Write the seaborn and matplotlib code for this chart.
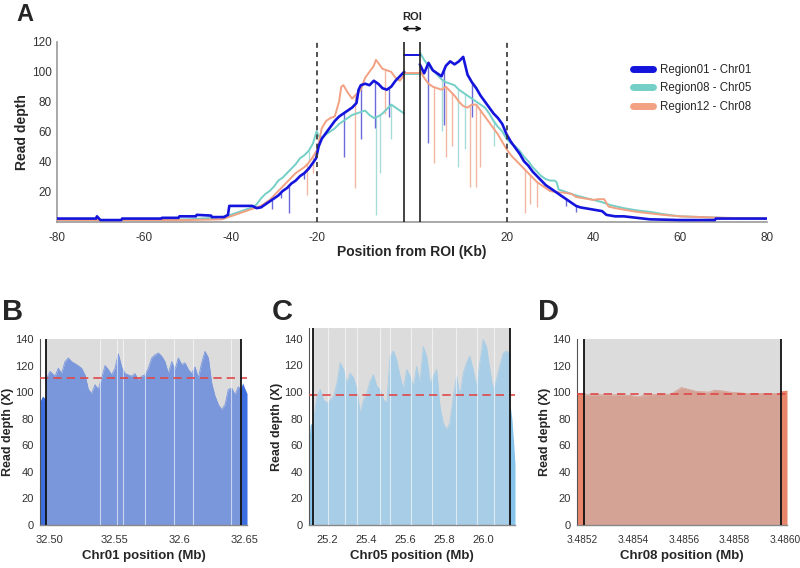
import numpy as np
import pandas as pd
import matplotlib
matplotlib.use("Agg")
import matplotlib.pyplot as plt
from matplotlib.lines import Line2D
import seaborn as sns

sns.set_theme(style="white")
plt.rcParams['font.family'] = ['Liberation Sans', 'DejaVu Sans']

# ---------------- Panel A data (position from ROI edge, kb ; read depth) ----------------
blue_left_pos = [-80, -71, -70.8, -70, -65.2, -65, -56, -55.8, -52, -51.8, -48, -47.8, -44.5, -44.3,
                 -41.5, -40.6, -40.3, -35, -34, -33, -32, -31, -30, -29, -28, -27, -26, -25, -24,
                 -23, -22, -21, -20.3, -19.7, -19, -18, -17, -16, -15, -14, -13, -12, -11, -10.5,
                 -10, -9, -8, -7, -6, -5, -4, -3, -2, -1, 0]
blue_left_val = [1.5, 1.5, 3, 0.5, 0.5, 1.5, 1.5, 2, 2, 3, 3, 4, 3.5, 2.5,
                 2.5, 4, 10, 10, 8.5, 9, 11, 13, 15, 17, 20, 22, 25, 27, 30,
                 32, 35, 39, 42, 50, 55, 59, 63, 67, 70, 72, 74, 76, 79, 88,
                 91, 92, 91, 94, 92, 89, 88, 90, 94, 97, 100]
blue_right_pos = [0, 1, 2, 3, 4, 5, 6, 7, 8, 9, 10, 11, 12, 13, 14, 15, 16, 17, 18, 19, 20,
                  21, 22, 23, 24, 25, 26, 27, 28, 29, 30, 31, 32, 33, 34, 35, 36, 37, 38, 40,
                  42, 43, 45, 47, 50, 53, 60, 68, 68.2, 80]
blue_right_val = [105, 99, 106, 101, 99, 97, 104, 107, 105, 107, 110, 98, 93, 89, 84, 80, 76, 72, 69, 65, 58,
                  53, 49, 45, 40, 37, 33, 30, 27, 24, 22, 20, 18, 16, 14, 12, 10, 9, 8.5, 7.5,
                  6.5, 4, 3, 3, 2, 1, 0.5, 0.5, 1.5, 1.5]

teal_left_pos = [-80, -60, -50, -44, -41, -39, -37, -35, -34, -33, -32, -31, -30, -29, -28, -27, -26,
                 -25, -24, -23, -22, -21, -20.2, -19.5, -19, -18, -17, -16, -15, -14, -13, -12, -11,
                 -10, -9, -8, -7, -6, -5, -4, -3, -2, -1, 0]
teal_left_val = [0.5, 0.5, 1, 2, 3, 5, 7, 9, 11, 15, 18, 20, 23, 27, 29, 32, 35,
                 38, 42, 44, 47, 52, 60, 56, 56, 58, 60, 62, 65, 67, 69, 71, 72,
                 73, 74, 71, 69, 70, 72, 75, 78, 76, 74, 72]
teal_right_pos = [0, 1, 2, 3, 4, 5, 6, 7, 8, 9, 10, 11, 12, 13, 14, 15, 16, 17, 18, 19, 20, 21, 22,
                  23, 24, 25, 26, 27, 28, 29, 30, 31, 31.5, 32, 34, 36, 38, 40, 42, 44, 47, 50, 53,
                  56, 60, 65, 70, 80]
teal_right_val = [113, 108, 104, 101, 98, 95, 93, 92, 91, 88, 86, 84, 82, 80, 78, 76, 72, 67, 63, 60, 55, 52, 50,
                  47, 43, 40, 36, 33, 30, 28, 27, 27, 26, 21, 19, 17, 15.5, 14, 12.5, 10.5, 8.5, 7, 6,
                  4.5, 3, 2.5, 2, 1.5]

orange_left_pos = [-80, -50, -42, -40, -38, -36, -35, -34, -33, -32, -31, -30, -29, -28, -27, -26, -25,
                   -24, -23, -22, -21, -20, -19.5, -19, -18, -17, -16, -15, -14.5, -14, -13, -12, -11,
                   -10, -9, -8, -7, -6.5, -6, -5, -4, -3, -2, -1, 0]
orange_left_val = [0.5, 0.5, 1, 3, 5, 7, 8, 9, 10, 12, 14, 17, 20, 23, 26, 29, 32,
                   34, 36, 39, 43, 48, 55, 62, 67, 69, 70, 80, 90, 91, 86, 82, 85,
                   88, 96, 100, 104, 108, 106, 102, 101, 100, 96, 94, 98]
orange_right_pos = [0, 1, 2, 3, 4, 5, 6, 7, 8, 9, 10, 11, 12, 13, 14, 15, 16, 17, 18, 19, 20, 21, 22,
                    23, 24, 25, 26, 27, 28, 29, 30, 31, 32, 33, 35, 36, 38, 40, 41, 42.5, 43.5, 45,
                    47, 50, 53, 56, 60, 70, 80]
orange_right_val = [101, 96, 92, 90, 89, 88, 90, 87, 84, 80, 77, 76, 78, 78, 74, 70, 66, 62, 58, 53, 48, 44, 41,
                    38, 35, 32, 29, 26, 24, 22, 20, 19.5, 19, 19, 18, 16, 15, 14, 14.5, 14.5, 9.5, 8.5,
                    7.5, 6, 5, 4, 3, 2, 1.5]

# sharp coverage drops (position kb, depth)
blue_dip_pos = [-30.5, -28.5, -26.5, -23, -13.8, -10, -6.8, -3.4, 1.8, 5.6, 12, 33.8, 36]
blue_dip_val = [8, 15, 5, 28, 43, 55, 62, 70, 52, 64, 70, 10, 6]
teal_dip_pos = [-22, -6.6, -5.5, -3, 5, 8.8, 10.3, 17]
teal_dip_val = [40, 4, 32, 55, 60, 36, 48, 50]
orange_dip_pos = [-22.3, -21, -11.4, -4.5, 3.2, 6, 7.5, 11.5, 13, 13.8, 24.2, 25.4, 27]
orange_dip_val = [17, 32, 22, 72, 39, 43, 50, 23, 23, 36, 5, 11, 9]

# mean depth inside ROI
roi_mean = {"Region01 - Chr01": 111, "Region08 - Chr05": 98.5, "Region12 - Chr08": 99.5}

series_names = ["Region01 - Chr01", "Region08 - Chr05", "Region12 - Chr08"]
series_colors = ["#1414dc", "#74cfc6", "#f2a182"]
dip_colors = ["#6a6ad8", "#a8dcd8", "#f0b8a4"]

ROI_HALF = 1.8  # half-width of the ROI gap on the x scale

# ---------------- Panels B-D data ----------------
b_pos = [32.4974, 32.5008, 32.5046, 32.5072, 32.5097, 32.5123, 32.5149, 32.5174, 32.5213, 32.5251,
         32.5277, 32.5303, 32.5328, 32.5354, 32.5379, 32.5405, 32.5431, 32.5456, 32.5482, 32.5508,
         32.5533, 32.5559, 32.5585, 32.5610, 32.5636, 32.5662, 32.5687, 32.5713, 32.5738, 32.5764,
         32.5790, 32.5815, 32.5841, 32.5867, 32.5892, 32.5918, 32.5944, 32.5969, 32.5995, 32.6021,
         32.6046, 32.6072, 32.6097, 32.6123, 32.6149, 32.6174, 32.6200, 32.6226, 32.6251, 32.6277,
         32.6303, 32.6328, 32.6354, 32.6379, 32.6405, 32.6431, 32.6456, 32.6479]
b_depth = [109, 115.6, 112, 118, 114, 123, 125.7, 123, 120.7, 118,
           113, 102, 99, 105.6, 102, 110.6, 120, 117, 113, 118,
           129, 119, 114, 113, 112, 114, 109, 112, 113, 118,
           125.7, 128, 129.5, 127, 123, 114, 123, 117, 125.7, 120.7,
           122, 117, 114, 119, 110.6, 122, 130.7, 125.7, 107, 97,
           90.6, 86.8, 90.6, 102, 103, 98, 104, 102]
b_out_left_pos = [32.4931, 32.4950, 32.4974]
b_out_left_depth = [93, 97, 95]
b_out_right_pos = [32.6479, 32.6490, 32.6505, 32.6523]
b_out_right_depth = [104, 107, 103, 99]
b_bounds = [32.4975, 32.6477]
b_mean = 110.6
b_gaps = [32.5392, 32.5520, 32.5570, 32.5740, 32.5960, 32.6105, 32.6400]

c_pos = [25.128, 25.145, 25.162, 25.179, 25.197, 25.214, 25.231, 25.248, 25.265, 25.282,
         25.299, 25.316, 25.334, 25.351, 25.368, 25.385, 25.402, 25.419, 25.436, 25.454,
         25.471, 25.488, 25.505, 25.522, 25.539, 25.556, 25.573, 25.591, 25.608, 25.625,
         25.642, 25.659, 25.676, 25.693, 25.710, 25.728, 25.745, 25.762, 25.779, 25.796,
         25.813, 25.830, 25.848, 25.865, 25.882, 25.899, 25.916, 25.933, 25.950, 25.967,
         25.985, 26.002, 26.019, 26.036, 26.053, 26.070, 26.087, 26.104, 26.122, 26.139]
c_depth = [79, 96.7, 101.8, 94, 91.7, 94, 96.7, 106.8, 121.9, 116.8,
           106.8, 114, 110.6, 101.8, 84, 94, 99, 108, 113, 104,
           101.8, 94, 91.7, 127, 130.7, 124, 111.8, 101.8, 116.8, 111.8,
           104, 119, 106.8, 134, 127, 106.8, 111.8, 116.8, 89, 76.6,
           71.6, 76.6, 96.7, 111.8, 96.7, 114, 121.9, 127, 116.8, 104,
           121.9, 139.4, 134, 116.8, 101.8, 109, 119, 129, 130.7, 129]
c_out_left_pos = [25.104, 25.110, 25.118, 25.125]
c_out_left_depth = [62, 75, 77, 70]
c_out_right_pos = [26.139, 26.150, 26.160, 26.166]
c_out_right_depth = [92, 80, 60, 45]
c_bounds = [25.125, 26.139]
c_mean = 97.5
c_gaps = [25.20, 25.29, 25.35, 25.47, 25.52, 25.63, 25.74, 25.86, 25.97, 26.06]

d_pos = [3.485204, 3.48535, 3.48539, 3.48542, 3.48545, 3.48555, 3.48559, 3.48561, 3.48565,
         3.48570, 3.48572, 3.48575, 3.48578, 3.48585, 3.485983]
d_depth = [98, 98, 97.5, 96.5, 98, 98.5, 103.5, 102.5, 100.5, 100, 101.5, 101, 100, 99, 99]
d_out_left_pos = [3.485178, 3.485204]
d_out_left_depth = [99, 99]
d_out_right_pos = [3.485983, 3.486007]
d_out_right_depth = [101, 101.5]
d_bounds = [3.485204, 3.485983]
d_mean = 98.5

# ---------------- Figure ----------------
W, H = 800, 568
fig = plt.figure(figsize=(W / 100, H / 100), dpi=100)


def px_axes(left, top, right, bottom):
    return fig.add_axes([left / W, 1 - bottom / H, (right - left) / W, (bottom - top) / H])


# ---- Panel A ----
axA = px_axes(57, 42, 767, 222)
segments = [
    (blue_left_pos, blue_left_val, blue_right_pos, blue_right_val, blue_dip_pos, blue_dip_val),
    (teal_left_pos, teal_left_val, teal_right_pos, teal_right_val, teal_dip_pos, teal_dip_val),
    (orange_left_pos, orange_left_val, orange_right_pos, orange_right_val, orange_dip_pos, orange_dip_val),
]
order = [1, 2, 0]  # draw blue on top
for i in order:
    lp, lv, rp, rv, dp, dv = segments[i]
    name, col, dcol = series_names[i], series_colors[i], dip_colors[i]
    lx = np.array(lp) - ROI_HALF
    rx = np.array(rp) + ROI_HALF
    dp = np.array(dp, dtype=float)
    top = np.where(dp < 0, np.interp(dp, lp, lv), np.interp(dp, rp, rv))
    dx = np.where(dp < 0, dp - ROI_HALF, dp + ROI_HALF)
    axA.vlines(dx, dv, top, color=dcol, lw=1.0, zorder=2)
    lw = 1.9 if i == 0 else 1.4
    sns.lineplot(x=lx, y=lv, ax=axA, color=col, lw=lw, zorder=3 + (i == 0))
    sns.lineplot(x=rx, y=rv, ax=axA, color=col, lw=lw, zorder=3 + (i == 0))
    sns.lineplot(x=[-ROI_HALF, ROI_HALF], y=[roi_mean[name]] * 2, ax=axA, color=col, lw=1.4, zorder=3)

axA.set_xlim(-80 - ROI_HALF, 80 + ROI_HALF)
axA.set_ylim(-0.8, 120)
for xv in (-20 - ROI_HALF, 20 + ROI_HALF):
    axA.axvline(xv, color="#333333", lw=1.2, ls=(0, (3, 2.5)), zorder=5)
for xv in (-ROI_HALF, ROI_HALF):
    axA.axvline(xv, color="#222222", lw=1.2, zorder=5)
tick_vals = [-80, -60, -40, -20, 0, 0, 20, 40, 60, 80]
tick_pos = [v - ROI_HALF for v in tick_vals[:5]] + [v + ROI_HALF for v in tick_vals[5:]]
axA.set_xticks(tick_pos)
axA.set_xticklabels([str(v) if v != 0 else "" for v in tick_vals])
axA.set_yticks([20, 40, 60, 80, 100, 120])
for s in ("top", "right"):
    axA.spines[s].set_visible(False)
for s in ("left", "bottom"):
    axA.spines[s].set_color("#999999")
    axA.spines[s].set_linewidth(1.2)
axA.tick_params(axis="both", labelsize=8.5, colors="#333333", length=3, width=0.8,
                color="#999999", pad=1)
axA.tick_params(axis="x", pad=4)
axA.set_xlabel("Position from ROI (Kb)", fontsize=10, fontweight="bold", labelpad=1)
axA.set_ylabel("Read depth", fontsize=10, fontweight="bold", labelpad=2)
axA.annotate("", xy=(-ROI_HALF - 0.5, 129), xytext=(ROI_HALF + 0.5, 129),
             arrowprops=dict(arrowstyle="<->,head_length=0.25,head_width=0.12", lw=1.1,
                             color="#111111", shrinkA=0, shrinkB=0),
             annotation_clip=False)
axA.text(0, 137, "ROI", ha="center", va="center", fontsize=8, fontweight="bold", clip_on=False)
handles = [Line2D([0], [0], color=c, lw=5) for c in series_colors]
axA.legend(handles, series_names, loc="upper left", bbox_to_anchor=(0.797, 0.935), frameon=False,
           fontsize=8.3, handlelength=1.75, handletextpad=0.6, labelspacing=0.55)
fig.text(16 / W, 1 - 3 / H, "A", fontsize=17, fontweight="bold", va="top", ha="left")


# ---- Panels B-D ----
def coverage_panel(ax, pos, depth, olp, old, orp, ord_, bounds, mean, ymax,
                   inner, outer, gaps, xlim, ticks, ticklabels, xlabel, xtick_size=8):
    ax.fill_between([bounds[0], bounds[1]], 0, ymax, color="#dcdcdc", lw=0, zorder=1)
    ax.fill_between(pos, 0, depth, color=inner, lw=0, zorder=2)
    sns.lineplot(x=pos, y=depth, ax=ax, color=inner, lw=0.6, zorder=2)
    ax.fill_between(olp, 0, old, color=outer, lw=0, zorder=2)
    ax.fill_between(orp, 0, ord_, color=outer, lw=0, zorder=2)
    if gaps:
        ax.vlines(gaps, 0, ymax, color="white", lw=0.8, alpha=0.6, zorder=3)
    ax.axhline(mean, color="#e04848", lw=1.2, ls=(0, (5, 3)), zorder=4)
    for b in bounds:
        ax.axvline(b, color="#111111", lw=1.3, zorder=5)
    ax.set_xlim(*xlim)
    ax.set_ylim(0, ymax)
    ax.set_yticks([0, 20, 40, 60, 80, 100, 120, 140])
    ax.set_xticks(ticks)
    ax.set_xticklabels(ticklabels)
    for s in ("top", "right"):
        ax.spines[s].set_visible(False)
    ax.spines["left"].set_color("#555555")
    ax.spines["bottom"].set_color("#888888")
    ax.spines["left"].set_linewidth(0.8)
    ax.spines["bottom"].set_linewidth(1.0)
    ax.tick_params(axis="both", labelsize=8, colors="#333333", length=3, width=0.8,
                   color="#555555", pad=1.5)
    ax.tick_params(axis="x", pad=4, labelsize=xtick_size)
    ax.set_xlabel(xlabel, fontsize=9.5, fontweight="bold", labelpad=4)
    ax.set_ylabel("Read depth (X)", fontsize=9, fontweight="bold", labelpad=1)


axB = px_axes(40, 339, 247, 525)
coverage_panel(axB, b_pos, b_depth, b_out_left_pos, b_out_left_depth, b_out_right_pos,
               b_out_right_depth, b_bounds, b_mean, 140, "#7a97dc", "#3d6fe0", b_gaps,
               (32.4931, 32.6523), [32.50, 32.55, 32.60, 32.65],
               ["32.50", "32.55", "32.6", "32.65"], "Chr01 position (Mb)")

axC = px_axes(309, 328, 515, 525)
coverage_panel(axC, c_pos, c_depth, c_out_left_pos, c_out_left_depth, c_out_right_pos,
               c_out_right_depth, c_bounds, c_mean, 148, "#a8cde6", "#86c3ea", c_gaps,
               (25.104, 26.166), [25.2, 25.4, 25.6, 25.8, 26.0],
               ["25.2", "25.4", "25.6", "25.8", "26.0"], "Chr05 position (Mb)")

axD = px_axes(577, 339, 787, 525)
coverage_panel(axD, d_pos, d_depth, d_out_left_pos, d_out_left_depth, d_out_right_pos,
               d_out_right_depth, d_bounds, d_mean, 140, "#d4a396", "#e8866c", [],
               (3.485178, 3.486007), [3.4852, 3.4854, 3.4856, 3.4858, 3.4860],
               ["3.4852", "3.4854", "3.4856", "3.4858", "3.4860"], "Chr08 position (Mb)",
               xtick_size=7.3)

for lab, xpx in (("B", 2), ("C", 272), ("D", 538)):
    fig.text(xpx / W, 1 - 298 / H, lab, fontsize=21, fontweight="bold", va="top", ha="left")

fig.savefig("out.png", dpi=100)
